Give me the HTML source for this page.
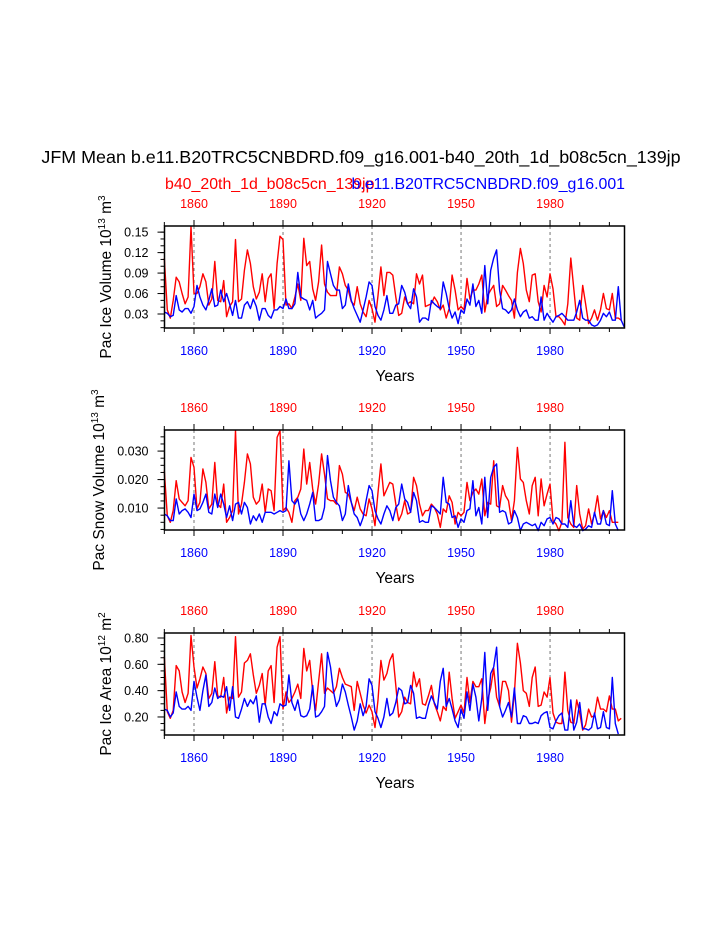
<!DOCTYPE html>
<html><head><meta charset="utf-8">
<style>
html,body{margin:0;padding:0;background:#fff;}
svg{display:block;font-family:"Liberation Sans",Arial,sans-serif;}
</style></head>
<body>
<svg id="chart" width="723" height="935" viewBox="0 0 723 935" xmlns="http://www.w3.org/2000/svg">
<text x="361" y="163" font-size="17.9" text-anchor="middle">JFM Mean b.e11.B20TRC5CNBDRD.f09_g16.001-b40_20th_1d_b08c5cn_139jp</text>
<text x="165" y="189" font-size="15.9" fill="#ff0000">b40_20th_1d_b08c5cn_139jp</text>
<text x="625" y="189" font-size="15.9" fill="#0000ff" text-anchor="end">b.e11.B20TRC5CNBDRD.f09_g16.001</text>
</svg>
<script>
const startYear = 1850;
const xTicks = [1860,1890,1920,1950,1980];
const iceVolRed = [.112,.036,.024,.050,.084,.077,.060,.045,.055,.158,.060,.060,.070,.089,.077,.043,.052,.107,.050,.048,.079,.026,.041,.048,.139,.048,.052,.094,.124,.104,.070,.052,.062,.089,.048,.082,.089,.038,.104,.144,.139,.043,.045,.038,.055,.074,.050,.141,.101,.107,.067,.050,.077,.131,.074,.062,.057,.057,.057,.099,.089,.072,.065,.048,.043,.070,.045,.033,.026,.050,.038,.018,.057,.099,.057,.091,.091,.087,.055,.028,.031,.055,.045,.048,.045,.089,.074,.087,.041,.043,.045,.055,.048,.036,.043,.024,.038,.087,.065,.036,.041,.036,.082,.052,.065,.065,.074,.087,.033,.057,.065,.072,.041,.045,.072,.065,.057,.050,.024,.091,.126,.104,.065,.048,.087,.089,.048,.033,.072,.055,.089,.067,.026,.026,.021,.014,.045,.112,.067,.024,.021,.072,.045,.016,.024,.036,.021,.036,.060,.038,.036,.060,.024,.024,.021];
const iceVolBlue = [.033,.031,.026,.028,.057,.036,.033,.038,.038,.031,.041,.072,.055,.043,.036,.050,.067,.041,.043,.065,.048,.060,.045,.028,.050,.024,.024,.043,.048,.038,.052,.041,.021,.038,.038,.028,.024,.036,.036,.041,.038,.052,.038,.038,.045,.091,.055,.052,.050,.036,.050,.024,.028,.031,.036,.107,.089,.072,.065,.065,.038,.043,.074,.050,.038,.028,.018,.036,.055,.077,.072,.041,.028,.021,.036,.057,.031,.031,.043,.045,.072,.062,.045,.038,.067,.055,.018,.024,.024,.021,.050,.045,.041,.038,.077,.060,.038,.024,.033,.016,.036,.031,.052,.043,.074,.041,.050,.031,.101,.045,.094,.112,.124,.065,.038,.036,.031,.036,.052,.036,.026,.033,.036,.024,.026,.021,.021,.055,.021,.031,.024,.018,.026,.028,.031,.026,.021,.021,.021,.033,.050,.024,.021,.021,.014,.012,.014,.021,.031,.026,.033,.021,.021,.070,.021,.011];
const snowVolRed = [.0231,.0073,.0050,.0091,.0196,.0132,.0120,.0108,.0126,.0278,.0243,.0097,.0120,.0237,.0190,.0097,.0114,.0260,.0114,.0102,.0184,.0050,.0067,.0091,.0372,.0079,.0114,.0190,.0290,.0255,.0138,.0114,.0126,.0184,.0085,.0167,.0161,.0091,.0348,.0372,.0091,.0102,.0085,.0050,.0126,.0138,.0167,.0307,.0184,.0260,.0167,.0114,.0184,.0290,.0219,.0132,.0126,.0126,.0114,.0249,.0219,.0155,.0149,.0120,.0091,.0138,.0097,.0079,.0073,.0132,.0097,.0038,.0155,.0255,.0143,.0167,.0190,.0184,.0114,.0056,.0079,.0126,.0079,.0085,.0208,.0179,.0114,.0073,.0091,.0091,.0114,.0102,.0079,.0032,.0097,.0085,.0143,.0120,.0044,.0085,.0073,.0085,.0190,.0126,.0155,.0167,.0149,.0202,.0073,.0120,.0114,.0266,.0108,.0102,.0179,.0143,.0126,.0056,.0126,.0313,.0202,.0190,.0126,.0079,.0179,.0208,.0073,.0202,.0108,.0149,.0184,.0056,.0044,.0021,.0050,.0331,.0067,.0044,.0032,.0179,.0079,.0026,.0038,.0097,.0044,.0079,.0143,.0062,.0091,.0067,.0091,.0050,.0050,.0050];
const snowVolBlue = [.0079,.0073,.0056,.0056,.0132,.0079,.0091,.0097,.0085,.0067,.0149,.0091,.0097,.0120,.0149,.0085,.0079,.0149,.0102,.0149,.0114,.0067,.0108,.0056,.0114,.0120,.0079,.0120,.0102,.0044,.0073,.0056,.0079,.0050,.0085,.0085,.0085,.0079,.0085,.0091,.0085,.0091,.0266,.0126,.0114,.0132,.0079,.0056,.0079,.0114,.0155,.0056,.0056,.0062,.0102,.0284,.0196,.0138,.0120,.0108,.0056,.0079,.0179,.0120,.0079,.0067,.0038,.0067,.0126,.0179,.0161,.0091,.0062,.0044,.0079,.0108,.0091,.0056,.0102,.0114,.0184,.0132,.0120,.0085,.0155,.0126,.0050,.0056,.0050,.0050,.0108,.0102,.0091,.0079,.0208,.0120,.0114,.0067,.0073,.0032,.0062,.0050,.0091,.0097,.0196,.0073,.0102,.0044,.0208,.0067,.0208,.0243,.0255,.0085,.0091,.0085,.0044,.0050,.0091,.0067,.0021,.0044,.0050,.0044,.0038,.0044,.0021,.0050,.0038,.0062,.0067,.0044,.0067,.0062,.0044,.0044,.0032,.0126,.0038,.0032,.0044,.0021,.0026,.0038,.0032,.0085,.0044,.0044,.0091,.0044,.0038,.0161,.0044,.0021];
const iceAreaRed = [.66,.24,.19,.25,.59,.55,.39,.31,.38,.82,.58,.42,.49,.58,.53,.34,.38,.62,.36,.35,.50,.23,.35,.34,.81,.35,.39,.61,.63,.68,.52,.38,.44,.53,.29,.55,.59,.31,.73,.81,.26,.39,.31,.34,.39,.45,.34,.72,.55,.63,.39,.25,.47,.68,.38,.42,.40,.38,.43,.57,.50,.45,.44,.43,.25,.47,.38,.29,.23,.29,.24,.12,.33,.63,.48,.53,.63,.68,.44,.20,.24,.35,.31,.30,.54,.43,.49,.30,.29,.36,.44,.30,.24,.17,.28,.25,.54,.34,.19,.24,.29,.23,.50,.31,.47,.43,.43,.49,.15,.33,.42,.57,.35,.28,.47,.47,.40,.16,.38,.76,.61,.40,.38,.28,.50,.58,.28,.29,.39,.35,.50,.23,.16,.15,.15,.54,.25,.16,.15,.33,.23,.10,.14,.26,.20,.21,.35,.26,.26,.24,.36,.26,.26,.17,.19];
const iceAreaBlue = [.26,.25,.20,.23,.39,.28,.26,.26,.28,.25,.47,.35,.25,.40,.52,.28,.31,.42,.34,.36,.35,.43,.25,.43,.20,.19,.26,.34,.28,.33,.30,.36,.16,.30,.30,.20,.15,.24,.21,.30,.28,.29,.52,.31,.25,.33,.21,.20,.21,.26,.44,.20,.21,.24,.28,.69,.58,.40,.28,.33,.45,.39,.29,.20,.10,.17,.30,.21,.28,.49,.44,.24,.19,.12,.20,.34,.21,.23,.31,.42,.40,.30,.31,.44,.38,.19,.20,.19,.19,.29,.36,.31,.26,.47,.57,.28,.34,.26,.17,.12,.26,.19,.39,.25,.45,.35,.17,.34,.69,.25,.53,.58,.73,.28,.20,.25,.31,.20,.42,.15,.15,.21,.20,.15,.15,.16,.15,.21,.23,.24,.12,.11,.17,.21,.23,.10,.10,.33,.10,.16,.31,.11,.11,.10,.12,.23,.11,.12,.24,.12,.11,.50,.15,.07];
const p1Ticks = [0.03,0.06,0.09,0.12,0.15];
const p1Labels = ["0.03","0.06","0.09","0.12","0.15"];
const p2Ticks = [0.010,0.020,0.030];
const p2Labels = ["0.010","0.020","0.030"];
const p3Ticks = [0.20,0.40,0.60,0.80];
const p3Labels = ["0.20","0.40","0.60","0.80"];

const svg = document.getElementById('chart');
const NS = 'http://www.w3.org/2000/svg';
const X0 = 164.5, X1 = 624.5;
function xs(yr){ return 194 + (yr - 1860) * 2.967; }
function mk(tag, attrs){ const e = document.createElementNS(NS, tag); for (const k in attrs) e.setAttribute(k, attrs[k]); svg.appendChild(e); return e; }

const panels = [
  {top:226,bot:328,min:0.0095,max:0.159,red:iceVolRed,blue:iceVolBlue,ticks:p1Ticks,labels:p1Labels,minor:0.01,title:'Pac Ice Volume 10',sup:'13',unit:' m',usup:'3',tx:111,name:'ice-volume'},
  {top:430,bot:530,min:0.0023,max:0.0374,red:snowVolRed,blue:snowVolBlue,ticks:p2Ticks,labels:p2Labels,minor:0.0025,title:'Pac Snow Volume 10',sup:'13',unit:' m',usup:'3',tx:104,name:'snow-volume'},
  {top:633,bot:735,min:0.063,max:0.838,red:iceAreaRed,blue:iceAreaBlue,ticks:p3Ticks,labels:p3Labels,minor:0.05,title:'Pac Ice Area 10',sup:'12',unit:' m',usup:'2',tx:111,name:'ice-area'}
];

panels.forEach(p => {
  const ys = v => p.bot - (v - p.min) / (p.max - p.min) * (p.bot - p.top);
  xTicks.forEach(t => {
    const l = mk('line',{x1:xs(t),x2:xs(t),y1:p.top,y2:p.bot,stroke:'#555','stroke-width':0.8,'stroke-dasharray':'3,3'});
    
    
  });
  [['red','#ff0000'],['blue','#0000ff']].forEach(([k,c]) => {
    const arr = p[k];
    const pts = arr.map((v,i) => xs(startYear + i).toFixed(1) + ',' + ys(v).toFixed(1)).join(' ');
    const pl = mk('polyline',{points:pts,fill:'none',stroke:c,'stroke-width':1.4,'stroke-linejoin':'round'});
    
    
  });
  const box = mk('rect',{x:X0,y:p.top,width:X1-X0,height:p.bot-p.top,fill:'none',stroke:'#000','stroke-width':1.5});
  
  
  for (let yr = 1850; yr <= 2000; yr += 10) {
    const major = xTicks.includes(yr);
    const len = major ? 6 : 4;
    mk('line',{x1:xs(yr),x2:xs(yr),y1:p.bot,y2:p.bot+len,stroke:'#000','stroke-width':1});
    mk('line',{x1:xs(yr),x2:xs(yr),y1:p.top,y2:p.top-len,stroke:'#000','stroke-width':1});
  }
  xTicks.forEach(t => {
    const a = mk('text',{x:xs(t),y:p.top-18,'font-size':12.5,'text-anchor':'middle',fill:'#ff0000'});
    a.textContent = t;
    
    
    const b = mk('text',{x:xs(t),y:p.bot+27,'font-size':12.5,'text-anchor':'middle',fill:'#0000ff'});
    b.textContent = t;
    
    
  });
  const yr = mk('text',{x:395,y:p.bot+53,'font-size':15.5,'text-anchor':'middle'});
  yr.textContent = 'Years';
  
  
  for (let v = Math.ceil(p.min / p.minor) * p.minor; v <= p.max; v += p.minor) {
    mk('line',{x1:X0,x2:X0-4,y1:ys(v),y2:ys(v),stroke:'#000','stroke-width':1});
  }
  p.ticks.forEach((t,i) => {
    mk('line',{x1:X0,x2:X0-7,y1:ys(t),y2:ys(t),stroke:'#000','stroke-width':1});
    const lb = mk('text',{x:X0-16,y:ys(t)+4.5,'font-size':12.5,'text-anchor':'end'});
    lb.textContent = p.labels[i];
    
    
  });
  const cy = (p.top + p.bot) / 2;
  const tt = mk('text',{x:p.tx,y:cy,'font-size':15.5,'text-anchor':'middle',transform:'rotate(-90 '+p.tx+' '+cy+')'});
  
  
  tt.innerHTML = p.title + '<tspan font-size="10" dy="-6">' + p.sup + '</tspan><tspan dy="6">' + p.unit + '</tspan><tspan font-size="10" dy="-6">' + p.usup + '</tspan>';
});
</script>
</body></html>
